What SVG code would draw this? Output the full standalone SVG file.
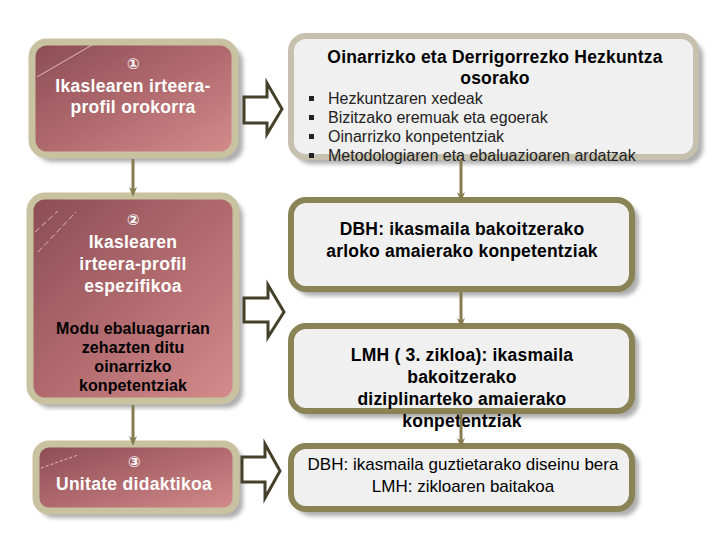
<svg xmlns="http://www.w3.org/2000/svg" width="720" height="540" viewBox="0 0 720 540">
<defs>
<linearGradient id="mauve" x1="0" y1="0" x2="1" y2="1">
<stop offset="0" stop-color="#8a4c54"/>
<stop offset="0.5" stop-color="#b06a6e"/>
<stop offset="1" stop-color="#d58c8c"/>
</linearGradient>
<filter id="sh" x="-10%" y="-10%" width="130%" height="130%">
<feGaussianBlur stdDeviation="2"/>
</filter>
<marker id="ah" markerWidth="10" markerHeight="10" refX="5" refY="5" orient="auto" markerUnits="userSpaceOnUse">
<path d="M0,1 L10,5 L0,9 L3,5 Z" fill="#857c4f"/>
</marker>
<style>
.shadow{fill:#9a9a9a;filter:url(#sh);opacity:0.8}
.lbox{fill:url(#mauve);stroke:#c9c2a0;stroke-width:7}
.rboxA{fill:#f0f0f0;stroke:#c5c1ae;stroke-width:6}
.rbox{fill:#f0f0f0;stroke:#8a8356;stroke-width:6}
.wt{font-family:"Liberation Sans",Arial,sans-serif;font-weight:bold;font-size:17.5px;fill:#ffffff;text-anchor:middle;letter-spacing:0.3px}
.num{font-family:"DejaVu Sans",sans-serif;font-weight:bold;font-size:15px;fill:#ffffff;text-anchor:middle}
.bt{font-family:"Liberation Sans",Arial,sans-serif;font-weight:bold;font-size:17.5px;fill:#000000;text-anchor:middle;letter-spacing:0.2px}
.bt15{font-family:"Liberation Sans",Arial,sans-serif;font-weight:bold;font-size:16px;fill:#000000;text-anchor:middle;letter-spacing:0.1px}
.rt{font-family:"Liberation Sans",Arial,sans-serif;font-size:16px;fill:#222222}
.rtc{font-family:"Liberation Sans",Arial,sans-serif;font-size:17px;fill:#000000;text-anchor:middle}
.conn{stroke:#857c4f;stroke-width:3;fill:none}
.barrow{fill:#ffffff;stroke:#45402a;stroke-width:3;stroke-linejoin:miter}
.gloss{stroke:#f4d0d0;stroke-width:1;fill:none;opacity:0.8}
</style>
</defs>

<g id="node-left-1">
<rect class="shadow" x="36" y="46" width="207" height="116" rx="16"/>
<rect class="lbox" x="32" y="42" width="203" height="113" rx="15"/>
<path class="gloss" d="M37,77 L92,45"/>
<text class="num" x="133" y="69">①</text>
<text class="wt" x="133" y="92">Ikaslearen irteera-</text>
<text class="wt" x="133" y="113">profil orokorra</text>
</g>

<g id="node-left-2">
<rect class="shadow" x="34" y="200" width="209" height="208" rx="16"/>
<rect class="lbox" x="30" y="196" width="206" height="205" rx="15"/>
<path class="gloss" d="M35,232 L58,211 M38,252 L76,212" stroke-dasharray="6,3"/>
<text class="num" x="133" y="225">②</text>
<text class="wt" x="133" y="248">Ikaslearen</text>
<text class="wt" x="133" y="270">irteera-profil</text>
<text class="wt" x="133" y="292">espezifikoa</text>
<text class="bt15" x="133" y="334">Modu ebaluagarrian</text>
<text class="bt15" x="133" y="353">zehazten ditu</text>
<text class="bt15" x="133" y="372">oinarrizko</text>
<text class="bt15" x="133" y="391">konpetentziak</text>
</g>

<g id="node-left-3">
<rect class="shadow" x="40" y="448" width="203" height="70" rx="14"/>
<rect class="lbox" x="36" y="444" width="200" height="67" rx="13"/>
<path class="gloss" d="M41,468 L78,455" stroke-dasharray="3,2"/>
<text class="num" x="134" y="467">③</text>
<text class="wt" x="134" y="490">Unitate didaktikoa</text>
</g>

<g id="node-right-A">
<rect class="shadow" x="295" y="40" width="408" height="124" rx="16"/>
<rect class="rboxA" x="291" y="36" width="405" height="121" rx="15"/>
<text class="bt" x="495" y="63">Oinarrizko eta Derrigorrezko Hezkuntza</text>
<text class="bt" x="495" y="84">osorako</text>
<rect x="309" y="96" width="5" height="5" fill="#222"/>
<rect x="309" y="115" width="5" height="5" fill="#222"/>
<rect x="309" y="134" width="5" height="5" fill="#222"/>
<rect x="309" y="153" width="5" height="5" fill="#222"/>
<text class="rt" x="328" y="104">Hezkuntzaren xedeak</text>
<text class="rt" x="328" y="123">Bizitzako eremuak eta egoerak</text>
<text class="rt" x="328" y="142">Oinarrizko konpetentziak</text>
<text class="rt" x="328" y="161">Metodologiaren eta ebaluazioaren ardatzak</text>
</g>

<g id="node-right-B">
<rect class="shadow" x="295" y="204" width="344" height="92" rx="16"/>
<rect class="rbox" x="291" y="200" width="341" height="89" rx="15"/>
<text class="bt" x="462" y="235">DBH: ikasmaila bakoitzerako</text>
<text class="bt" x="462" y="257">arloko amaierako konpetentziak</text>
</g>

<g id="node-right-C">
<rect class="shadow" x="295" y="330" width="344" height="88" rx="16"/>
<rect class="rbox" x="291" y="326" width="341" height="85" rx="15"/>
<text class="bt" x="462" y="361">LMH ( 3. zikloa): ikasmaila</text>
<text class="bt" x="462" y="383">bakoitzerako</text>
<text class="bt" x="462" y="405"> diziplinarteko amaierako</text>
<text class="bt" x="462" y="427">konpetentziak</text>
</g>

<g id="node-right-D">
<rect class="shadow" x="295" y="450" width="344" height="66" rx="16"/>
<rect class="rbox" x="291" y="446" width="341" height="63" rx="15"/>
<text class="rtc" x="463" y="470">DBH: ikasmaila guztietarako diseinu bera</text>
<text class="rtc" x="463" y="492">LMH: zikloaren baitakoa</text>
</g>

<g id="connectors">
<line class="conn" x1="133" y1="159" x2="133" y2="192" marker-end="url(#ah)"/>
<line class="conn" x1="133" y1="405" x2="133" y2="441" marker-end="url(#ah)"/>
<line class="conn" x1="461" y1="160" x2="461" y2="197" marker-end="url(#ah)"/>
<line class="conn" x1="461" y1="292" x2="461" y2="323" marker-end="url(#ah)"/>
<line class="conn" x1="461" y1="414" x2="461" y2="443" marker-end="url(#ah)"/>
<path class="barrow" d="M244,97 L267,97 L267,83 L282,109 L267,134 L267,123 L244,123 Z"/>
<path class="barrow" d="M244,298 L268,298 L268,285 L284,312 L268,337 L268,322 L244,322 Z"/>
<path class="barrow" d="M242,457 L265,457 L265,444 L280,471 L265,498 L265,482 L242,482 Z"/>
</g>
</svg>
